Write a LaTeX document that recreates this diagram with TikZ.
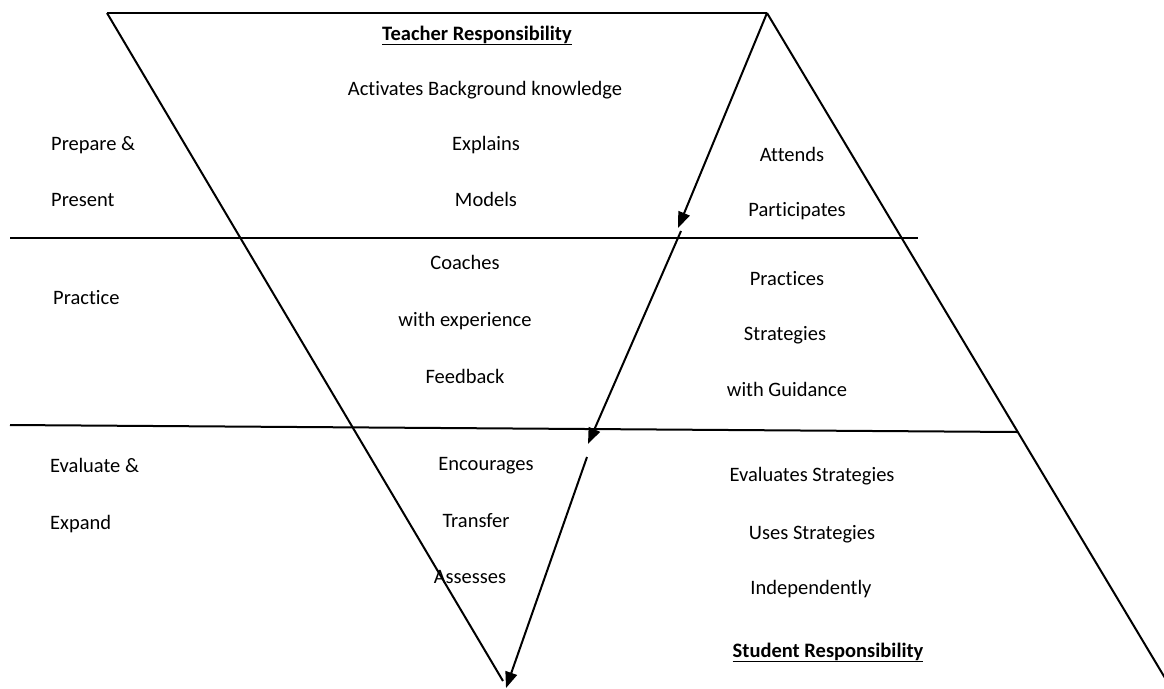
\documentclass[tikz,border=0pt]{standalone}
\usepackage{fontspec}
\setmainfont{Carlito}[Ligatures=NoCommon]
\usetikzlibrary{arrows.meta}
\begin{document}
\begin{tikzpicture}[x=1pt,y=-1pt,
  ln/.style={line width=2pt},
  arr/.style={line width=2pt,-{Triangle[length=16pt,width=12pt]}},
  lbl/.style={inner sep=0pt,anchor=base,font=\fontsize{20.5}{24}\selectfont},
  lbll/.style={lbl,anchor=base west}]
\useasboundingbox (0,0) rectangle (1164,688);
% frame coordinates
\coordinate (TL) at (107,13);
\coordinate (TR) at (767,13);
\coordinate (LB) at (503,681);
\coordinate (RB) at (1168,683);
\coordinate (H1a) at (10,238);
\coordinate (H1b) at (918,238);
\coordinate (H2a) at (10,425);
\coordinate (H2b) at (1017,432);
\coordinate (A1) at (678,228);
\coordinate (B2) at (681,231);
\coordinate (A2) at (588,444);
\coordinate (B3) at (587,457);
\coordinate (A3) at (506,688);
% lines
\draw[ln] (TL) -- (TR);
\draw[ln] (TL) -- (LB);
\draw[ln] (TR) -- (RB);
\draw[ln] (H1a) -- (H1b);
\draw[ln] (H2a) -- (H2b);
\draw[arr] (TR) -- (A1);
\draw[arr] (B2) -- (A2);
\draw[arr] (B3) -- (A3);
% texts
\node[lbl] (tr) at (477,40) {\textbf{\underline{Teacher Responsibility}}};
\node[lbl] (t1) at (485,95) {Activates Background knowledge};
\node[lbl] (t2) at (486,150) {Explains};
\node[lbl] (t3) at (486,206) {Models};
\node[lbll] (p1) at (51,150) {Prepare \&};
\node[lbll] (p2) at (51,206) {Present};
\node[lbl] (s1) at (792,161) {Attends};
\node[lbl] (s2) at (797,216) {Participates};
\node[lbll] (p3) at (53,304) {Practice};
\node[lbl] (t4) at (465,269) {Coaches};
\node[lbl] (t5) at (465,326) {with experience};
\node[lbl] (t6) at (465,383) {Feedback};
\node[lbl] (s3) at (787,285) {Practices};
\node[lbl] (s4) at (785,340) {Strategies};
\node[lbl] (s5) at (787,396) {with Guidance};
\node[lbll] (p4) at (50,472) {Evaluate \&};
\node[lbll] (p5) at (50,529) {Expand};
\node[lbl] (t7) at (486,470) {Encourages};
\node[lbl] (t8) at (476,527) {Transfer};
\node[lbl] (t9) at (470,583) {Assesses};
\node[lbl] (s6) at (812,481) {Evaluates Strategies};
\node[lbl] (s7) at (812,539) {Uses Strategies};
\node[lbl] (s8) at (811,594) {Independently};
\node[lbl] (sr) at (828,657) {\textbf{\underline{Student Responsibility}}};
\end{tikzpicture}
\end{document}
